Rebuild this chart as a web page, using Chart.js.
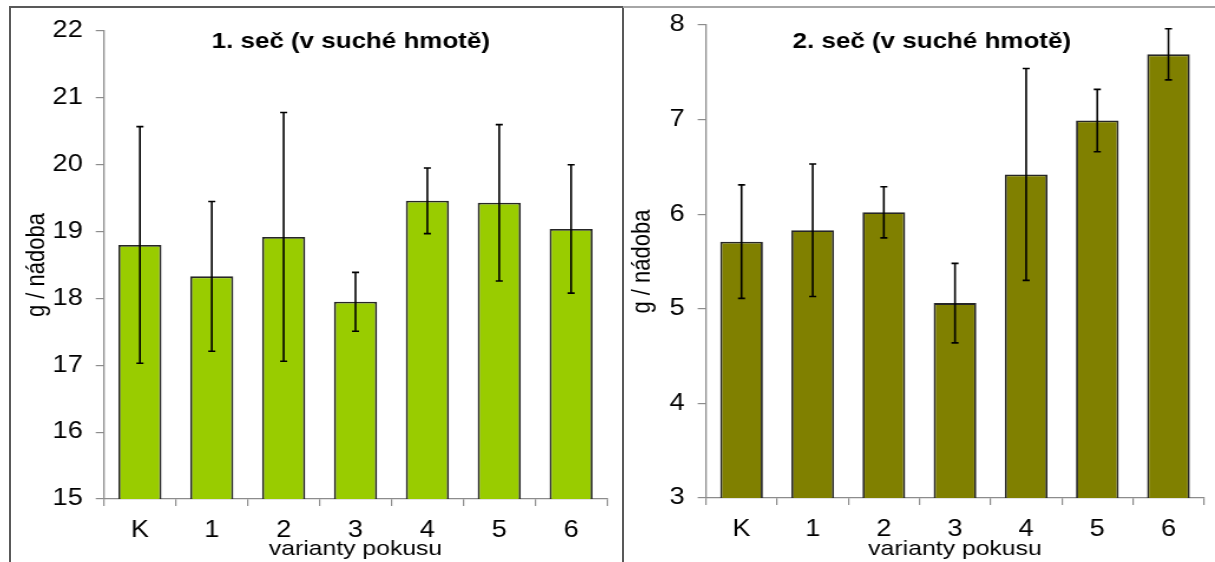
<!DOCTYPE html>
<html>
<head>
<meta charset="utf-8">
<script src="https://cdn.jsdelivr.net/npm/chart.js@4/dist/chart.umd.min.js"></script>
<style>
  body { margin: 0; background: #fff; width: 1215px; height: 562px; overflow: hidden; position: relative; }
  .frame { position: absolute; box-sizing: border-box; }
  .wrap { position: absolute; top: 0; transform-origin: 0 0; }
  canvas { display: block; }
</style>
</head>
<body>
<div class="frame" style="left:9px;top:6px;width:615px;height:620px;border:2px solid #595959;"></div>
<div class="frame" style="left:623px;top:6px;width:592px;height:2px;background:#a6a6a6;"></div>
<div class="wrap" id="w1" style="left:10px;"><canvas id="cut1" width="519" height="562"></canvas></div>
<div class="wrap" id="w2" style="left:625px;"><canvas id="cut2" width="500" height="562"></canvas></div>
<script>
// data
const categories = ['K', '1', '2', '3', '4', '5', '6']
const cut1Mean = [18.8, 18.33, 18.92, 17.95, 19.46, 19.43, 19.04]
const cut1Err = [1.77, 1.12, 1.86, 0.44, 0.49, 1.17, 0.96]
const cut2Mean = [5.71, 5.83, 6.02, 5.06, 6.42, 6.99, 7.69]
const cut2Err = [0.6, 0.7, 0.27, 0.42, 1.12, 0.33, 0.27]

const FONT = "'Liberation Sans', Arial, sans-serif"
const AXIS_GRAY = '#8c8c8c'
const TEXT = '#000'

// the reference is stretched sideways, so each canvas is too
document.getElementById('w1').style.transform = `scaleX(${612 / 519})`
document.getElementById('w2').style.transform = `scaleX(${590 / 500})`

const errorBars = errs => ({
  id: 'errorBars',
  afterDatasetsDraw(chart) {
    const { ctx } = chart
    const yScale = chart.scales.y
    const values = chart.data.datasets[0].data
    ctx.save()
    ctx.strokeStyle = '#000'
    ctx.lineWidth = 1.6
    chart.getDatasetMeta(0).data.forEach((bar, i) => {
      const hi = yScale.getPixelForValue(values[i] + errs[i])
      const lo = yScale.getPixelForValue(values[i] - errs[i])
      ctx.beginPath()
      ctx.moveTo(bar.x, hi)
      ctx.lineTo(bar.x, lo)
      ctx.moveTo(bar.x - 3, hi)
      ctx.lineTo(bar.x + 3, hi)
      ctx.moveTo(bar.x - 3, lo)
      ctx.lineTo(bar.x + 3, lo)
      ctx.stroke()
    })
    ctx.restore()
  },
})

const heading = (text, x) => ({
  id: 'heading',
  afterDraw(chart) {
    const { ctx } = chart
    ctx.save()
    ctx.font = `bold 22px ${FONT}`
    ctx.fillStyle = '#000'
    ctx.textAlign = 'center'
    ctx.textBaseline = 'alphabetic'
    ctx.fillText(text, x, 48)
    ctx.restore()
  },
})

const makeChart = (id, opt) =>
  new Chart(document.getElementById(id), {
    type: 'bar',
    data: {
      labels: categories,
      datasets: [
        {
          data: opt.values,
          backgroundColor: opt.color,
          borderColor: '#262626',
          borderWidth: 1.8,
          borderSkipped: false,
          barPercentage: 0.6,
          categoryPercentage: 1,
        },
      ],
    },
    options: {
      responsive: false,
      animation: false,
      layout: { padding: { top: opt.top, right: opt.right, left: 0, bottom: 0 } },
      plugins: { legend: { display: false }, tooltip: { enabled: false } },
      scales: {
        x: {
          offset: true,
          grid: { offset: true, drawOnChartArea: false, tickLength: 7, color: AXIS_GRAY, lineWidth: 1.2 },
          border: { color: AXIS_GRAY, width: 1.3 },
          ticks: { color: TEXT, padding: 11, font: { family: FONT, size: 23 } },
          title: {
            display: true,
            text: 'varianty pokusu',
            color: TEXT,
            padding: { top: 0, bottom: 0 },
            font: { family: FONT, size: 21 },
          },
          afterFit: s => { s.height = opt.xHeight },
        },
        y: {
          min: opt.min,
          max: opt.max,
          grid: { drawOnChartArea: false, tickLength: 7, color: AXIS_GRAY, lineWidth: 1.2 },
          border: { color: AXIS_GRAY, width: 1.3 },
          ticks: { stepSize: 1, color: TEXT, padding: 11, font: { family: FONT, size: 23 } },
          title: {
            display: true,
            text: 'g / nádoba',
            color: TEXT,
            padding: { top: opt.titlePad, bottom: 0 },
            font: { family: FONT, size: 22 },
          },
          afterFit: s => { s.width = opt.yWidth },
        },
      },
    },
    plugins: [errorBars(opt.errs), heading(opt.title, opt.titleX)],
  })

makeChart('cut1', {
  values: cut1Mean,
  errs: cut1Err,
  color: '#99cc00',
  min: 15,
  max: 22,
  top: 31,
  right: 12.7,
  xHeight: 63,
  yWidth: 79.7,
  titlePad: 10,
  title: '1. seč (v suché hmotě)',
  titleX: 289,
})

makeChart('cut2', {
  values: cut2Mean,
  errs: cut2Err,
  color: '#808000',
  min: 3,
  max: 8,
  top: 25,
  right: 9.3,
  xHeight: 64,
  yWidth: 68.6,
  titlePad: 2,
  title: '2. seč (v suché hmotě)',
  titleX: 260,
})
</script>
</body>
</html>
